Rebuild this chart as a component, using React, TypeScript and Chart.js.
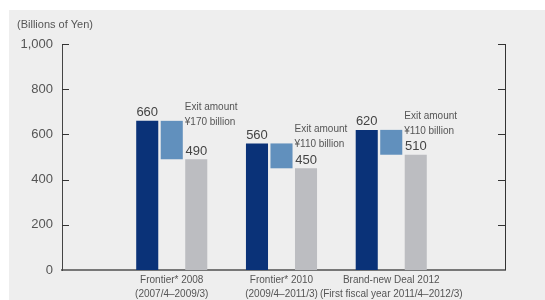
import React, { useEffect, useRef } from "react";
import { Chart, registerables } from "chart.js";

Chart.register(...registerables);

const categories: string[][] = [
  ["Frontier* 2008", "(2007/4–2009/3)"],
  ["Frontier* 2010", "(2009/4–2011/3)"],
  ["Brand-new Deal 2012", "(First fiscal year 2011/4–2012/3)"],
];
const beforeValues = [660, 560, 620];
const afterValues = [490, 450, 510];
const exitLabels = ["¥170 billion", "¥110 billion", "¥110 billion"];
const yMin = 0;
const yMax = 1000;
const yStep = 200;
const yTitle = "(Billions of Yen)";

const FONT = "'Liberation Sans', Arial, Helvetica, sans-serif";

export default function App() {
  const ref = useRef<HTMLCanvasElement>(null);
  useEffect(() => {
    const canvas = ref.current!;
    const labels: any[] = ["", ...categories, ""];
    const pad = (a: any[]) => [null, ...a, null];

    const bgPlugin = {
      id: "bg",
      beforeDraw(chart: any) {
        const c = chart.ctx;
        c.save();
        c.fillStyle = "#ffffff";
        c.fillRect(0, 0, chart.width, chart.height);
        c.fillStyle = "#eeeeee";
        c.fillRect(9, 10, chart.width - 9, chart.height - 10);
        c.fillStyle = "#555555";
        c.font = "11px " + FONT;
        c.textBaseline = "middle";
        c.textAlign = "left";
        c.fillText(yTitle, 17, 25);
        c.restore();
      },
    };

    const decoPlugin = {
      id: "deco",
      afterDraw(chart: any) {
        const c = chart.ctx;
        const ya = chart.scales.y;
        const area = chart.chartArea;
        const frameRight = Math.round(area.right) + 4;
        c.save();
        // extend bottom axis to frame
        c.strokeStyle = "#777777";
        c.lineWidth = 2;
        c.beginPath();
        c.moveTo(area.right - 1, Math.round(area.bottom));
        c.lineTo(frameRight + 1, Math.round(area.bottom));
        c.stroke();
        c.strokeStyle = "#333333";
        c.lineWidth = 1;
        // right border
        c.beginPath();
        c.moveTo(frameRight + 0.5, area.top);
        c.lineTo(frameRight + 0.5, area.bottom);
        c.stroke();
        ya.ticks.forEach((t: any) => {
          if (t.value === 0) return;
          const y = Math.round(ya.getPixelForValue(t.value)) + 0.5;
          c.beginPath();
          c.moveTo(area.left, y);
          c.lineTo(area.left + 7, y);
          c.moveTo(frameRight, y);
          c.lineTo(frameRight - 7, y);
          c.stroke();
        });
        // value labels
        const darkMeta = chart.getDatasetMeta(0);
        const exitMeta = chart.getDatasetMeta(1);
        const grayMeta = chart.getDatasetMeta(2);
        c.fillStyle = "#444444";
        c.textAlign = "center";
        c.textBaseline = "middle";
        c.font = "13px " + FONT;
        categories.forEach((_, i) => {
          const d = darkMeta.data[i + 1];
          const g = grayMeta.data[i + 1];
          c.fillText(String(beforeValues[i]), d.x, d.y - 8);
          c.fillText(String(afterValues[i]), g.x, g.y - 8);
        });
        c.font = "10px " + FONT;
        c.textAlign = "left";
        c.fillStyle = "#555555";
        categories.forEach((_, i) => {
          const e = exitMeta.data[i + 1];
          const top = Math.min(e.y, e.base);
          const x = e.x + e.width / 2 + 2;
          c.fillText("Exit amount", x, top - 14);
          c.fillText(exitLabels[i], x, top + 1);
        });
        c.restore();
      },
    };

    const chart = new Chart(canvas, {
      type: "bar",
      data: {
        labels,
        datasets: [
          {
            data: pad(beforeValues),
            backgroundColor: "#0a3278",
            barPercentage: 0.9,
            categoryPercentage: 0.67,
          },
          {
            data: pad(beforeValues.map((b, i) => [afterValues[i], b])),
            backgroundColor: "#6190bd",
            barPercentage: 0.9,
            categoryPercentage: 0.67,
          },
          {
            data: pad(afterValues),
            backgroundColor: "#bcbdc1",
            barPercentage: 0.9,
            categoryPercentage: 0.67,
          },
        ],
      } as any,
      options: {
        responsive: false,
        animation: false,
        devicePixelRatio: 1,
        layout: { padding: { top: 44, right: 44, left: 0, bottom: 0 } },
        plugins: { legend: { display: false }, tooltip: { enabled: false } },
        scales: {
          x: {
            offset: false,
            grid: { display: false, drawTicks: false },
            border: { display: true, color: "#777777", width: 2 },
            ticks: {
              autoSkip: false,
              maxRotation: 0,
              minRotation: 0,
              padding: 3,
              color: "#555555",
              font: { family: FONT, size: 10, lineHeight: 1.4 },
            },
            afterFit(s: any) {
              s.height = 30;
            },
          },
          y: {
            min: yMin,
            max: yMax,
            grid: { display: false, drawTicks: false },
            border: { display: true, color: "#444444", width: 1 },
            ticks: {
              stepSize: yStep,
              padding: 9,
              color: "#555555",
              font: { family: FONT, size: 13 },
              callback: (v: any) => Number(v).toLocaleString("en-US"),
            },
            afterFit(s: any) {
              s.width = 62;
            },
          },
        },
      } as any,
      plugins: [bgPlugin, decoPlugin],
    });
    return () => chart.destroy();
  }, []);
  return (
    <div style={{ position: "fixed", left: 0, top: 0 }}>
      <canvas ref={ref} width={545} height={300} style={{ display: "block" }} />
    </div>
  );
}
